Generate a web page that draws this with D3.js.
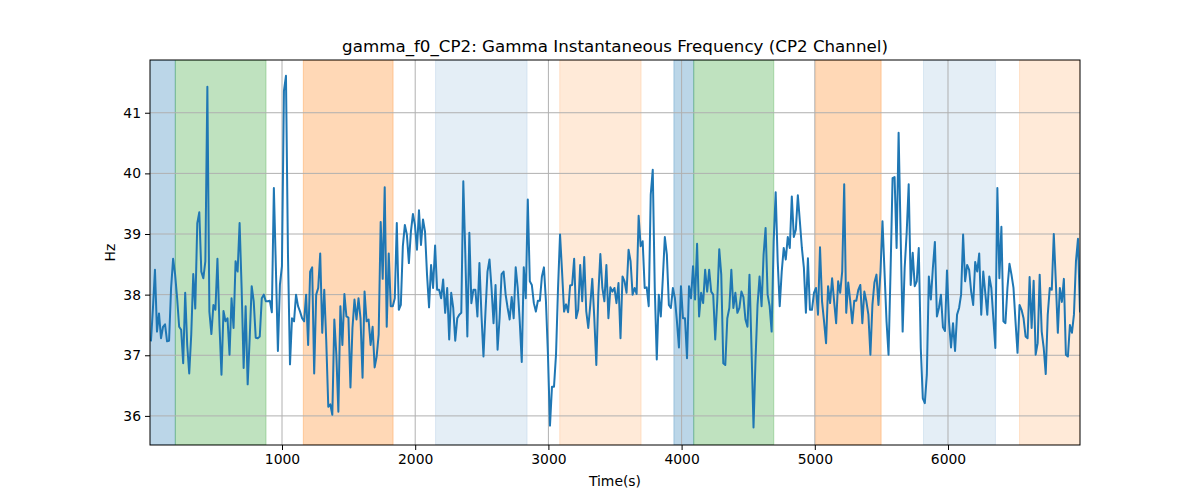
<!DOCTYPE html>
<html>
<head>
<meta charset="utf-8">
<title>gamma_f0_CP2</title>
<script src="https://cdn.jsdelivr.net/npm/d3@7"></script>
<style>
  body { margin: 0; background: #fff; }
  svg text { font-family: "DejaVu Sans", sans-serif; fill: #000; }
</style>
</head>
<body>
<div id="chart"></div>
<script>

// sample start time and spacing (s)
var t0 = 16, dt = 15.13;
var xMin = 9, xMax = 6991;

// instantaneous frequency (Hz), one value per sample
var freq = [
  37.23, 37.78, 38.41, 37.39, 37.69, 37.28, 37.47, 37.51, 37.23, 37.24,
  38.11, 38.59, 38.33, 37.94, 37.47, 37.42, 36.87, 38.03, 37.17, 36.70,
  37.34, 38.34, 37.77, 39.18, 39.36, 38.38, 38.27, 38.55, 41.43, 37.72,
  37.35, 37.83, 37.75, 38.59, 37.50, 36.68, 37.73, 37.56, 37.61, 37.01,
  37.94, 37.45, 38.55, 38.38, 39.18, 38.11, 36.79, 37.81, 36.52, 37.28,
  38.14, 37.89, 37.29, 37.28, 37.31, 37.94, 38.00, 37.89, 37.89, 37.90,
  37.71, 39.76, 38.44, 37.07, 38.16, 38.47, 41.36, 41.61, 38.66, 36.85,
  37.61, 37.56, 38.00, 37.81, 37.72, 37.61,
  37.56, 38.00, 37.17, 38.38, 38.45, 36.70, 38.00, 38.11, 38.68, 37.37,
  38.08, 37.23, 36.15, 36.19, 36.02, 37.59, 37.01, 36.07, 37.81, 37.17,
  38.01, 37.64, 37.62, 36.47, 37.45, 37.92, 37.59, 37.94, 37.61, 36.63,
  38.05, 37.56, 37.59, 37.17, 37.47, 36.80, 36.98, 37.34, 39.20, 38.26,
  39.77, 37.47, 38.68, 37.81, 37.81, 37.94, 39.18, 37.75, 37.83, 38.80,
  39.15, 38.99, 38.52, 39.04, 39.33, 39.15, 38.74, 39.39, 38.82, 39.24,
  39.04, 38.33, 37.79, 38.49, 38.11, 38.81, 38.08, 38.08, 37.94, 38.25,
  37.70, 38.11, 37.26, 38.03, 37.78, 37.24, 37.61, 37.67,
  37.70, 39.87, 38.66, 37.31, 39.02, 37.86, 38.08, 38.08, 37.64, 38.52,
  37.67, 36.98, 37.72, 38.38, 38.58, 38.11, 37.53, 38.16, 37.09, 37.61,
  38.34, 38.38, 38.00, 37.78, 37.59, 37.96, 37.61, 38.45, 38.11, 37.56,
  36.89, 38.45, 37.94, 39.57, 38.22, 38.16, 37.86, 37.72, 37.90, 37.90,
  38.30, 38.45, 37.89, 37.01, 35.84, 36.48, 36.48, 37.01, 38.11, 38.99,
  38.38, 37.72, 37.84, 37.71, 38.15, 38.16, 38.59, 37.61, 37.75, 38.49,
  37.89, 38.62, 37.73, 37.45, 37.83, 38.26, 37.61, 36.84, 38.00, 38.67,
  38.11, 37.89, 38.49, 37.61, 38.12, 38.05,
  38.11, 37.86, 38.19, 37.28, 38.30, 38.22, 38.03, 38.74, 38.55, 38.00,
  38.11, 38.01, 39.30, 38.80, 38.88, 38.11, 38.12, 37.81, 39.65, 40.06,
  38.11, 36.93, 38.00, 37.64, 38.27, 38.95, 38.66, 37.83, 37.78, 38.11,
  37.94, 37.56, 37.13, 38.14, 37.61, 37.61, 36.95, 38.14, 37.94, 38.47,
  37.92, 38.84, 37.64, 38.03, 37.86, 38.41, 38.05, 38.41, 38.05, 38.00,
  37.26, 37.89, 38.75, 38.33, 36.87, 36.84, 37.61, 37.78, 38.41, 37.78,
  38.03, 37.70, 37.78, 38.05, 37.96, 37.59, 37.47, 38.33, 37.12, 35.81,
  36.93, 37.83, 38.30, 37.81, 38.66, 39.10,
  38.00, 37.81, 37.39, 38.88, 39.69, 38.55, 37.81, 38.38, 38.77, 38.58,
  38.95, 38.77, 39.62, 38.95, 39.07, 39.64, 39.21, 38.77, 38.44, 37.70,
  38.60, 37.75, 37.75, 38.03, 38.11, 37.67, 38.78, 37.89, 37.56, 37.20,
  38.14, 37.86, 38.27, 37.89, 37.53, 38.22, 38.03, 38.38, 39.82, 37.70,
  38.20, 37.89, 37.53, 37.90, 37.90, 38.08, 38.16, 37.53, 38.05, 37.89,
  37.67, 37.01, 37.83, 38.20, 38.33, 37.83, 38.38, 39.21, 38.38, 37.56,
  37.01, 38.38, 39.92, 39.94, 38.77, 40.67, 38.99, 37.39, 38.44, 39.02,
  39.82, 38.16, 38.69, 38.14, 38.22, 38.77, 37.12, 36.29,
  36.21, 36.68, 38.30, 37.92, 38.44, 38.87, 37.64, 37.78, 38.00, 37.46,
  37.40, 38.40, 37.56, 37.13, 37.53, 37.07, 37.67, 37.78, 38.00, 38.99,
  38.22, 38.49, 38.41, 38.05, 37.83, 38.54, 38.38, 38.68, 37.67, 38.38,
  38.03, 37.67, 38.30, 38.11, 37.61, 37.12, 39.76, 38.27, 39.12, 37.56,
  37.53, 38.11, 38.51, 38.33, 38.11, 37.56, 37.04, 37.83, 37.75, 37.61,
  37.31, 37.28, 38.29, 37.45, 38.23, 37.01, 37.20, 38.33, 37.39, 37.12,
  36.69, 37.67, 38.11, 38.08, 39.00, 38.22, 37.37, 38.11, 37.88, 38.26,
  37.01, 36.98, 37.50, 37.37, 37.67, 38.55, 38.92, 37.72, 38.00
];

// shaded segments: start, end (s) and colour key
var spanStart = [0, 199, 1160, 2153, 3085, 3942, 4091, 5006, 5816, 6537];
var spanEnd   = [199, 880, 1834, 2840, 3696, 4091, 4692, 5498, 6356, 6991];
var spanKind  = ["blue", "green", "orange", "lightblue", "lightorange",
                 "blue", "green", "orange", "lightblue", "lightorange"];

var xTicks = [1000, 2000, 3000, 4000, 5000, 6000];
var yTicks = [36, 37, 38, 39, 40, 41];

var spanColor = {
  blue:        ["#1f77b4", 0.3],
  green:       ["#2ca02c", 0.3],
  orange:      ["#ff7f0e", 0.3],
  lightblue:   ["#1f77b4", 0.12],
  lightorange: ["#ff7f0e", 0.16]
};

var margin = {top: 60, right: 120, bottom: 55, left: 150},
    width = 1200 - margin.left - margin.right,
    height = 500 - margin.top - margin.bottom;

var svg = d3.select("#chart")
  .append("svg")
    .attr("width", 1200)
    .attr("height", 500);

var g = svg.append("g")
    .attr("transform", "translate(" + margin.left + "," + margin.top + ")");

var times = freq.map(function(d, i) { return t0 + i * dt; });

var x = d3.scaleLinear()
  .domain([xMin, xMax])
  .range([0, width]);

var y = d3.scaleLinear()
  .domain([35.52, 41.87])
  .range([height, 0]);

g.append("clipPath").attr("id", "clip")
  .append("rect").attr("width", width).attr("height", height);

// spans
g.append("g").attr("clip-path", "url(#clip)")
  .selectAll("rect")
  .data(spanStart).enter()
  .append("rect")
    .attr("x", function(d) { return x(d); })
    .attr("width", function(d, i) { return x(spanEnd[i]) - x(d); })
    .attr("y", 0)
    .attr("height", height)
    .attr("fill", function(d, i) { return spanColor[spanKind[i]][0]; })
    .attr("fill-opacity", function(d, i) { return spanColor[spanKind[i]][1]; })
    .attr("stroke", function(d, i) { return spanColor[spanKind[i]][0]; })
    .attr("stroke-opacity", function(d, i) { return spanColor[spanKind[i]][1]; })
    .attr("stroke-width", 1);

// grid
g.append("g")
  .selectAll("line.gx")
  .data(xTicks).enter()
  .append("line")
    .attr("x1", function(d) { return x(d); })
    .attr("x2", function(d) { return x(d); })
    .attr("y1", 0).attr("y2", height)
    .attr("stroke", "#b0b0b0").attr("stroke-width", 1);
g.append("g")
  .selectAll("line.gy")
  .data(yTicks).enter()
  .append("line")
    .attr("y1", function(d) { return y(d); })
    .attr("y2", function(d) { return y(d); })
    .attr("x1", 0).attr("x2", width)
    .attr("stroke", "#b0b0b0").attr("stroke-width", 1);

// the signal
var line = d3.line()
  .x(function(d, i) { return x(times[i]); })
  .y(function(d) { return y(d); });

g.append("path")
  .datum(freq)
  .attr("clip-path", "url(#clip)")
  .attr("fill", "none")
  .attr("stroke", "#1f77b4")
  .attr("stroke-width", 2)
  .attr("stroke-linejoin", "round")
  .attr("d", line);

// axes
var xAxis = g.append("g")
  .attr("transform", "translate(0," + height + ")")
  .call(d3.axisBottom(x).tickValues(xTicks).tickSize(5).tickPadding(4).tickFormat(d3.format("d")));
var yAxis = g.append("g")
  .call(d3.axisLeft(y).tickValues(yTicks).tickSize(5).tickPadding(4).tickFormat(d3.format("d")));

[xAxis, yAxis].forEach(function(a) {
  a.select(".domain").remove();
  a.selectAll("text").style("font-size", "13.9px").style("font-family", "DejaVu Sans, sans-serif");
  a.selectAll("line").attr("stroke", "#000").attr("stroke-width", 1);
});

g.append("rect")
  .attr("width", width).attr("height", height)
  .attr("fill", "none").attr("stroke", "#000").attr("stroke-width", 1);

// labels
svg.append("text")
  .attr("x", margin.left + width / 2)
  .attr("y", 52)
  .attr("text-anchor", "middle")
  .style("font-size", "16.7px")
  .text("gamma_f0_CP2: Gamma Instantaneous Frequency (CP2 Channel)");

svg.append("text")
  .attr("x", margin.left + width / 2)
  .attr("y", 486)
  .attr("text-anchor", "middle")
  .style("font-size", "13.9px")
  .text("Time(s)");

svg.append("text")
  .attr("transform", "translate(115," + (margin.top + height / 2) + ") rotate(-90)")
  .attr("text-anchor", "middle")
  .style("font-size", "13.9px")
  .text("Hz");

</script>
</body>
</html>
